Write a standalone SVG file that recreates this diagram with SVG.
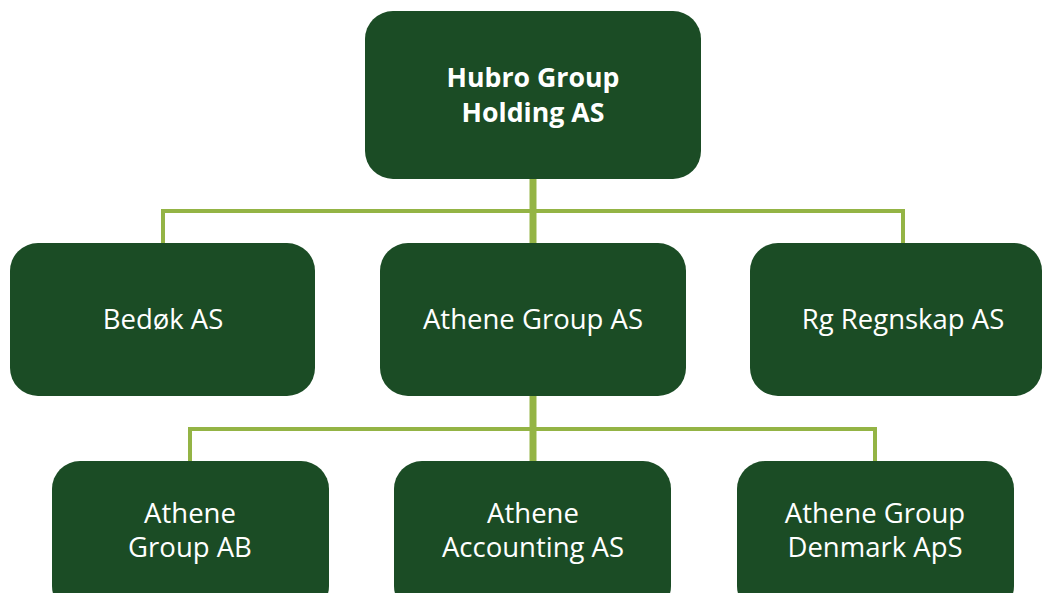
<svg xmlns="http://www.w3.org/2000/svg" width="1044" height="593" viewBox="0 0 1044 593">
<style>
.box{fill:#1B4C25;}
.t{font-family:"Open Sans","Noto Sans",sans-serif;font-size:27.5px;fill:#FFFFFF;text-anchor:middle;}
.b{font-weight:bold;font-size:26.7px;}
.ln{stroke:#94B445;fill:none;}
</style>
<rect width="1044" height="593" fill="#FFFFFF"/>
<g id="connectors">
<path class="ln" stroke-width="4" d="M163,244 V211 H903 V244"/>
<path class="ln" stroke-width="7" d="M533,179 V244"/>
<path class="ln" stroke-width="4" d="M190,461 V429 H875 V461"/>
<path class="ln" stroke-width="7" d="M533,396 V461"/>
</g>
<g id="hubro">
<rect class="box" x="365" y="11" width="336" height="168" rx="28"/>
<text class="t b" x="533" y="87">Hubro Group</text>
<text class="t b" x="533" y="122">Holding AS</text>
</g>
<g id="bedok">
<rect class="box" x="10" y="243" width="305" height="153" rx="28"/>
<text class="t" x="163" y="329">Bedøk AS</text>
</g>
<g id="athene-group">
<rect class="box" x="380" y="243" width="306" height="153" rx="28"/>
<text class="t" x="533" y="329">Athene Group AS</text>
</g>
<g id="rg-regnskap">
<rect class="box" x="750" y="243" width="292" height="153" rx="28"/>
<text class="t" x="903" y="329">Rg Regnskap AS</text>
</g>
<g id="athene-ab">
<rect class="box" x="52" y="461" width="277" height="153" rx="28"/>
<text class="t" x="190" y="523">Athene</text>
<text class="t" x="190" y="557">Group AB</text>
</g>
<g id="athene-accounting">
<rect class="box" x="394" y="461" width="277" height="153" rx="28"/>
<text class="t" x="533" y="523">Athene</text>
<text class="t" x="533" y="557">Accounting AS</text>
</g>
<g id="athene-denmark">
<rect class="box" x="737" y="461" width="277" height="153" rx="28"/>
<text class="t" x="875" y="523">Athene Group</text>
<text class="t" x="875" y="557">Denmark ApS</text>
</g>
</svg>
